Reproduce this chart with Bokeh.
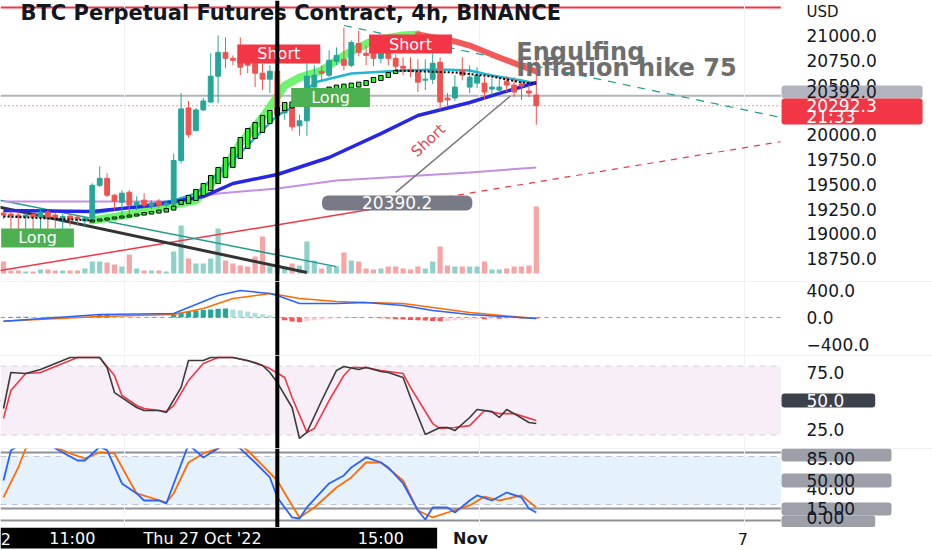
import numpy as np
from bokeh.plotting import figure
from bokeh.models import (Range1d, FixedTicker, Span, BoxAnnotation, Label,
                          ColumnDataSource, PrintfTickFormatter)
from bokeh.layouts import column
from bokeh.embed import file_html
from bokeh.resources import INLINE
from bokeh.core.properties import value

# ------------------------------------------------------------------ data
# 4h candles, index 0 .. 72  (index 37 = Thu 27 Oct '22 15:00, cursor)
opens = [19210, 19200, 19190, 19170, 19195, 19170, 19220, 19190, 19160, 19180,
         19170, 19130, 19160, 19490, 19560, 19390, 19320, 19420, 19290, 19340,
         19280, 19330, 19290, 19300, 19740, 20270, 20040, 20250, 20330, 20590,
         20830, 20770, 20770, 20770, 20720, 20620, 20560, 20640, 20220, 20280,
         20090, 20140, 20480, 20640, 20600, 20740, 20760, 20700, 20920, 20820,
         20830, 20770, 20840, 20770, 20690, 20660, 20630, 20550, 20560, 20730,
         20370, 20370, 20650, 20480, 20520, 20520, 20460, 20450, 20540, 20500,
         20510, 20440, 20400]
highs = [19240, 19230, 19220, 19210, 19220, 19240, 19240, 19210, 19200, 19200,
         19190, 19170, 19510, 19680, 19610, 19400, 19440, 19440, 19380, 19410,
         19340, 19350, 19330, 19810, 20420, 20340, 20270, 20370, 20820, 21000,
         20980, 20800, 20980, 20830, 20780, 20720, 20700, 20660, 20300, 20300,
         20200, 20740, 20700, 20700, 20850, 20880, 21080, 20950, 21050, 20900,
         20880, 20900, 20930, 20810, 20780, 20780, 20760, 20760, 20820, 20780,
         20420, 20600, 20780, 20700, 20680, 20580, 20570, 20560, 20590, 20580,
         20560, 20500, 20800]
lows = [19150, 19040, 19040, 19040, 19040, 19040, 19040, 19060, 19050, 19080,
        19080, 19075, 19140, 19470, 19370, 19240, 19190, 19160, 19240, 19260,
        19250, 19260, 19250, 19280, 19710, 19970, 20040, 20240, 20320, 20320,
        20670, 20700, 20600, 20620, 20480, 20450, 20420, 20170, 20150, 20040,
        19990, 19990, 20400, 20550, 20580, 20700, 20650, 20680, 20790, 20700,
        20690, 20720, 20700, 20640, 20600, 20580, 20430, 20450, 20510, 20250,
        20290, 20340, 20550, 20420, 20470, 20350, 20400, 20420, 20430, 20380,
        20350, 20380, 20100]
closes = [19190, 19180, 19170, 19190, 19170, 19220, 19165, 19160, 19175, 19150,
          19150, 19160, 19490, 19560, 19390, 19330, 19410, 19290, 19320, 19290,
          19310, 19290, 19310, 19740, 20260, 20000, 20250, 20340, 20590, 20830,
          20770, 20750, 20680, 20700, 20620, 20560, 20640, 20210, 20260, 20080,
          20140, 20590, 20600, 20620, 20750, 20800, 20700, 20930, 20830, 20800,
          20770, 20840, 20770, 20690, 20670, 20640, 20530, 20560, 20720, 20330,
          20350, 20480, 20600, 20580, 20600, 20430, 20480, 20480, 20500, 20430,
          20490, 20420, 20292.3]
volumes = [12, 3, 3, 2, 2, 4, 4, 3, 3, 3,
           3, 5, 12, 12, 11, 9, 7, 19, 5, 3,
           3, 3, 2, 22, 48, 15, 10, 10, 15, 45,
           13, 10, 8, 7, 17, 37, 7, 25, 7, 10,
           8, 32, 13, 5, 8, 7, 21, 13, 12, 5,
           4, 5, 7, 7, 5, 4, 7, 5, 12, 27,
           8, 7, 7, 7, 7, 12, 4, 4, 5, 7,
           7, 8, 67]

# trend-candle overlay (green bodies)
green_idx = list(range(12, 54))
green_lo = [19120, 19130, 19140, 19150, 19160, 19170, 19180, 19190, 19200, 19210, 19220, 19240,
            19297, 19307, 19337, 19387, 19438, 19508, 19569, 19670, 19760, 19861, 19962, 20023,
            20113, 20194, 20244,
            20270, 20300, 20330, 20360, 20390, 20420, 20440, 20460, 20470, 20480, 20496, 20526,
            20546, 20577, 20617]
green_hi = [19140, 19150, 19160, 19170, 19180, 19190, 19200, 19215, 19225, 19240, 19255, 19280,
            19337, 19387, 19448, 19508, 19589, 19670, 19770, 19871, 19972, 20063, 20123, 20194,
            20244, 20274, 20325,
            20330, 20360, 20400, 20430, 20460, 20480, 20500, 20510, 20520, 20530, 20546, 20577,
            20597, 20627, 20647]
dot_left_idx = [0, 12]
dot_left = [19176, 19136]
dot_right_idx = [53, 61, 66, 70, 72]
dot_right = [20647, 20627, 20587, 20526, 20516]

ribbon_up_idx = [12, 17, 21, 26, 30, 32, 35, 37, 38, 40, 43, 46, 48, 50, 54, 56]
ribbon_up = [19136, 19196, 19267, 19337, 19670, 19912, 20174, 20385, 20496, 20577, 20647,
             20799, 20879, 20950, 21000, 21010]
ribbon_dn_idx = [56, 61, 63, 67, 72]
ribbon_dn = [21010, 20940, 20899, 20778, 20637]

ema_fast_idx = [12, 23, 26, 31, 35, 37, 39, 42, 47, 54, 59, 63, 66, 70, 72]
ema_fast = [19206, 19337, 19408, 19740, 20043, 20194, 20274, 20526, 20617, 20647, 20657,
            20647, 20597, 20547, 20516]
ema_mid_idx = [0, 12, 20, 27, 31, 37, 44, 51, 56, 63, 67, 72]
ema_mid = [19236, 19226, 19287, 19376, 19508, 19599, 19770, 20011, 20194, 20325, 20416, 20526]
ema_slow_idx = [0, 23, 29, 37, 45, 54, 63, 72]
ema_slow = [19327, 19327, 19408, 19458, 19539, 19579, 19619, 19670]

# drawn trend lines
black_tl_idx = [-1, 41]
black_tl = [19277, 18610]
teal_tl_idx = [-1, 45]
teal_tl = [19346, 18670]
red_tl_idx = [-1, 55]
red_tl = [18624, 19313]
red_tl_ext_idx = [55, 105]
red_tl_ext = [19313, 19929]
teal_dash_idx = [46, 105]
teal_dash = [21101, 20174]
pointer_idx = [53, 68.5]
pointer = [19418, 20390.2]

price_ticks = [18750, 19000, 19250, 19500, 19750, 20000, 20500, 20750, 21000]
last_price = 20292.3
hline_price = 20392.0

# MACD
macd_idx = [0, 13, 23, 25, 29, 32, 36, 37, 40, 45, 49, 54, 58, 63, 72]
macd = [-55, 44, 59, 148, 326, 400, 355, 326, 207, 207, 222, 178, 104, 44, -15]
signal_idx = [0, 13, 23, 27, 31, 36, 37, 40, 45, 49, 54, 58, 63, 72]
signal = [-55, 15, 44, 133, 281, 355, 340, 281, 237, 222, 207, 148, 74, -15]
hist = [5, 8, 10, 12, 10, 8, 10, 12, 10, 8, 10,
        10, 15,
        40, 45, 35,
        15, 10, 5, 0, -5, -5, 0,
        40, 75, 90, 100, 110, 120, 130, 135,
        120, 105, 90, 70, 50, 30,
        -5, -40, -60, -70, -55, -40, -30, -20, -10, -5, 5, 5, 2, -5, -10, -15,
        -25, -30, -35, -40, -45, -50, -55, -50, -40, -35, -30, -25, -25, -20, -20, -18, -15, -15,
        -12, -15]
macd_ticks = [-400, 0, 400]

# Stoch RSI (pink pane, bands 20 / 80)
k_idx = [0, 1, 3, 5, 6, 8, 9, 13, 14, 15, 17, 18, 19, 21, 22, 24, 25, 27, 28, 31,
         33, 35, 36, 37, 39, 40, 41, 43, 45, 46, 48, 49, 51, 52, 54, 55, 57, 59, 60, 61,
         63, 64, 66, 67, 68, 69, 71, 72]
k_vals = [43.0, 74.6, 73.7, 77.2, 79.8, 85.1, 87.7, 87.7, 79.0, 57.0, 48.2, 43.9, 41.2, 41.2,
          39.5, 61.5, 85.1, 85.1, 87.7, 87.7, 85.1, 80.7, 74.6, 65.7, 43.9, 16.7, 22.0, 50,
          76.4, 79.8, 77.2, 79.0, 75.4, 74.6, 70.2, 52.6, 20.2, 26.3, 26.3, 23.6, 35.1, 42.1,
          40.3, 35.1, 42.1, 38.5, 30.7, 29.8]
d_idx = [0, 1, 3, 5, 6, 9, 10, 13, 15, 16, 18, 19, 22, 23, 25, 27, 29, 31, 34, 36,
         38, 39, 41, 42, 44, 46, 47, 49, 51, 54, 55, 58, 59, 61, 63, 65, 67, 69, 72]
d_vals = [34.3, 58.8, 73.7, 74.6, 77.2, 85.1, 87.7, 87.7, 72.0, 54.4, 45.6, 43.0, 40.3, 45.6,
          67.5, 82.4, 87.7, 87.7, 83.3, 78.0, 70.2, 52.6, 22.0, 25.4, 50, 72.0, 79.0, 79.0,
          76.4, 73.7, 61.5, 29.8, 25.4, 26.3, 28.0, 41.2, 38.5, 38.5, 32.5]

# second oscillator (blue pane)
bk_idx = [0, 1, 3, 6, 7, 10, 11, 13, 14, 16, 18, 19, 21, 22, 25, 27, 29, 30, 32, 34,
          36, 37, 39, 40, 41, 44, 46, 47, 49, 51, 52, 54, 56, 57, 58, 60, 61, 63, 64, 66,
          68, 70, 71, 72]
bk_vals = [50, 87.5, 100, 100, 90, 75, 75, 92, 88, 46.3, 33.8, 25, 25, 21.3, 95, 78.8, 90, 100,
           90, 72.5, 53.8, 28.8, 3.8, 2.5, 16.3, 46.3, 56.3, 66.3, 78.8, 72.5, 66.3, 46.3, 12.5,
           1.3, 16.3, 16.3, 10, 25, 31.3, 25, 35, 28.8, 15, 10]
bd_idx = [0, 2, 3, 5, 9, 11, 13, 15, 17, 18, 22, 23, 25, 27, 29, 31, 33, 35, 37, 39,
          40, 42, 45, 47, 49, 51, 54, 56, 58, 60, 63, 65, 67, 70, 72]
bd_vals = [28.8, 66.3, 90, 100, 83.8, 77.5, 85, 83.8, 50, 33.8, 22.5, 33.8, 72.5, 83.8, 90, 100,
           87.5, 68.8, 50, 18.8, 3.8, 16.3, 41.3, 53.8, 72.5, 72.5, 50, 12.5, 3.8, 10, 18.8, 30,
           25, 31.3, 16.3]

# time axis
cursor_idx = 37
date_labels = ["2", "11:00", "Thu 27 Oct '22", "15:00", "Nov", "7"]
date_pos = [0.3, 9.3, 26.9, 51.0, 63.1, 99.9]

# ------------------------------------------------------------------ style
UP, DOWN = "#26a69a", "#ef5350"
FONT = "DejaVu Sans"
TXT = "#131722"
W = 932
XR = Range1d(-0.405, 125.54)      # full width: plot area + price-scale area
CHART_END = 105.05                 # right edge of the plotting area (scale starts here)
GRID_X = [16.4, 64.3, 100.1]
AX_FS = "17px"
AX_X = 108.5                       # start of scale texts
BOX_L = 105.14                     # left edge of scale boxes
BOX_R_WIDE, BOX_R_MID, BOX_R_NARROW = 124.2, 120.0, 117.8


def pane(h, y0, y1, ticks=None, fmt="%.1f", axis=True):
    p = figure(width=W, height=h, x_range=XR, y_range=Range1d(y0, y1),
               output_backend="svg", toolbar_location=None,
               x_axis_location=None, y_axis_location=("right" if axis else None),
               min_border_left=0, min_border_right=0, min_border_top=0, min_border_bottom=0)
    p.outline_line_color = None
    p.border_fill_color = "white"
    p.background_fill_color = "white"
    p.xgrid.ticker = FixedTicker(ticks=GRID_X)
    p.xgrid.grid_line_color = "#f0f1f4"
    p.ygrid.visible = False
    if axis:
        ax = p.yaxis[0]
        ax.ticker = FixedTicker(ticks=ticks or [])
        ax.formatter = PrintfTickFormatter(format=fmt)
        ax.axis_line_color = None
        ax.major_tick_line_color = None
        ax.minor_tick_line_color = None
        ax.major_tick_out = 0
        ax.major_tick_in = 0
        ax.major_label_standoff = -126     # draw the scale texts over the scale area
        ax.major_label_text_font = FONT
        ax.major_label_text_font_size = AX_FS
        ax.major_label_text_color = TXT
    return p


def label(p, x, y, text, color=TXT, size="16px", bg=None, pad=None, align="left",
          bold=False, radius=0, angle=0.0):
    kw = dict(x=x, y=y, text=text, text_font=FONT, text_font_size=size, text_color=color,
              text_align=align, text_baseline="middle", angle=angle,
              text_font_style=("bold" if bold else "normal"))
    if bg is not None:
        kw.update(background_fill_color=bg, background_fill_alpha=1.0, border_radius=radius)
    if pad is not None:
        l, r, t, b = pad
        kw["padding"] = dict(left=l, right=r, top=t, bottom=b)
    p.add_layout(Label(**kw))


def scale_box(p, right, top, bottom, color):
    p.add_layout(BoxAnnotation(left=BOX_L, right=right, top=top, bottom=bottom,
                               fill_color=color, fill_alpha=1, line_alpha=0,
                               border_radius=3))


def level_line(p, y, color, width=1, dash="solid"):
    p.segment(x0=[XR.start], x1=[CHART_END], y0=[y], y1=[y], line_color=color,
              line_width=width, line_dash=dash, level="underlay")


def separator(p, y):
    p.add_layout(Span(location=y, dimension="width", line_color="#e0e3eb", line_width=1,
                      level="underlay"))


def cursor(p):
    p.add_layout(Span(location=cursor_idx, dimension="height", line_color="black", line_width=4))


# ------------------------------------------------------------------ price pane
pp = pane(281, 18520, 21353, ticks=price_ticks)
pp.extra_y_ranges = {"vol": Range1d(-8, 273)}

idx = np.arange(len(opens))
o, h, l, c = map(np.asarray, (opens, highs, lows, closes))
up = c >= o
src = ColumnDataSource(dict(
    x=idx, h=h, l=l, top=np.maximum(o, c), bottom=np.minimum(o, c),
    color=np.where(up, UP, DOWN), vol=volumes,
    vcolor=np.where(up, "#8fd1c9", "#f6a5a4")))

pp.vbar(x="x", width=0.7, top="vol", bottom=0, fill_color="vcolor", line_color=None,
        source=src, y_range_name="vol")

level_line(pp, hline_price, "#b2b5be", width=2)
level_line(pp, last_price, "#f23645", width=1, dash="1 3")
level_line(pp, 21282, "#f23645", width=2)

pp.line(red_tl_idx, red_tl, line_color="#f23645", line_width=1.5)
pp.line(red_tl_ext_idx, red_tl_ext, line_color="#f23645", line_width=1.2, line_dash="6 6")
pp.line(teal_tl_idx, teal_tl, line_color="#1f9c8c", line_width=1.5)
pp.line(black_tl_idx, black_tl, line_color="#333333", line_width=3)
pp.line(teal_dash_idx, teal_dash, line_color="#1f9c8c", line_width=1.2, line_dash="8 7")

pp.line(ema_slow_idx, ema_slow, line_color="#c490e4", line_width=2)
pp.line(ribbon_up_idx, ribbon_up, line_color="#55f255", line_width=8, line_alpha=0.85,
        line_cap="round")
pp.line(ribbon_dn_idx, ribbon_dn, line_color="#f25a5a", line_width=6, line_cap="round")
pp.line(ema_fast_idx, ema_fast, line_color="#22b5d4", line_width=2.5)
pp.line(ema_mid_idx, ema_mid, line_color="#2626e6", line_width=3.5)

pp.segment(x0="x", y0="h", x1="x", y1="l", line_color="color", line_width=1, source=src)
pp.vbar(x="x", width=0.65, top="top", bottom="bottom", fill_color="color",
        line_color="color", source=src)

pp.vbar(x=green_idx, width=0.6, top=green_hi, bottom=green_lo, fill_color="#2cf02c",
        line_color="black", line_width=1)
pp.line(dot_left_idx, dot_left, line_color="black", line_width=2, line_dash="2 2")
pp.line(dot_right_idx, dot_right, line_color="black", line_width=2, line_dash="2 2")
pp.line(pointer_idx, pointer, line_color="#777777", line_width=1.5)

pp.text(x=[69.3, 69.3], y=[20829, 20668], text=["Engulfing", "Inflation hike 75"],
        text_font=value(FONT), text_font_size="24px", text_font_style="bold",
        text_color="#6e6e6e", text_baseline="middle")

label(pp, 2.3, 21232, "BTC Perpetual Futures Contract, 4h, BINANCE", bold=True, size="21px")
label(pp, 4.6, 18959, "Long", color="white", bg="#4caf50", pad=(17, 17, 0, 0), align="center")
label(pp, 44.2, 20375, "Long", color="white", bg="#4caf50", pad=(20, 20, 0, 0), align="center")
label(pp, 37.2, 20814, "Short", color="white", bg="#f23645", pad=(20, 20, 0, 0), align="center")
label(pp, 55.0, 20914, "Short", color="white", bg="#f23645", pad=(20, 20, 0, 0), align="center")
label(pp, 53.2, 19312, "20390.2", color="white", bg="#787b86", pad=(40, 40, 1, 1),
      align="center", radius=6, size="17px")
label(pp, 57.4, 19942, "Short", color="#e8434f", size="15px", align="center", angle=0.75)
cursor(pp)
scale_box(pp, BOX_R_WIDE, 20496, 20365, "#b2b5be")
scale_box(pp, BOX_R_WIDE, 20365, 20103, "#f23645")
label(pp, AX_X, 21242, "USD", size="15px")
label(pp, AX_X, 20431, "20392.0", size=AX_FS)
label(pp, AX_X, 20295, "20292.3", color="white", size=AX_FS)
label(pp, AX_X, 20174, "21:33", color="white", size=AX_FS)

# ------------------------------------------------------------------ MACD pane
pm = pane(74, -562, 533, ticks=macd_ticks)
pm.yaxis[0].major_label_overrides = {-400: "\u2212400.0"}
separator(pm, 533)
level_line(pm, 0, "#9598a1", dash="4 4")
hvals = np.asarray(hist, dtype=float)
prev = np.concatenate([[hvals[0]], hvals[:-1]])
hcol = np.where(hvals >= 0, np.where(hvals >= prev, "#26a69a", "#b2dfdb"),
                np.where(hvals <= prev, "#ff5252", "#ffcdd2"))
pm.vbar(x=idx, width=0.7, top=hvals, bottom=0, fill_color=hcol, line_color=None)
pm.line(signal_idx, signal, line_color="#ff6d00", line_width=1.5)
pm.line(macd_idx, macd, line_color="#2962ff", line_width=1.5)
cursor(pm)

# ------------------------------------------------------------------ Stoch RSI pane
ps1 = pane(93, 7.9, 89.5, ticks=[25, 75])
ps1.add_layout(BoxAnnotation(bottom=20, top=80, right=CHART_END, fill_color="#f7eef7",
                             fill_alpha=1, line_alpha=0, level="underlay"))
separator(ps1, 89.5)
level_line(ps1, 80, "#9598a1", dash="6 5")
level_line(ps1, 20, "#9598a1", dash="6 5")
level_line(ps1, 50, "#363a45", width=2)
ps1.line(d_idx, d_vals, line_color="#f23645", line_width=1.6)
ps1.line(k_idx, k_vals, line_color="#3b3b3b", line_width=1.6)
cursor(ps1)
scale_box(ps1, BOX_R_NARROW, 56.1, 43.9, "#3d414c")
label(ps1, AX_X, 50, "50.0", color="white", size=AX_FS)

# ------------------------------------------------------------------ second oscillator pane
pb = pane(79, -8.75, 90, ticks=[40], fmt="%.2f")
pb.add_layout(BoxAnnotation(bottom=20, top=80, right=CHART_END, fill_color="#e5f2fd",
                            fill_alpha=1, line_alpha=0, level="underlay"))
separator(pb, 90)
for lv in (80, 20):
    level_line(pb, lv, "#9598a1", dash="6 5")
for lv in (85, 50, 15, 0):
    level_line(pb, lv, "#8e9199", width=2)
pb.line(bd_idx, bd_vals, line_color="#ff6d00", line_width=1.8)
pb.line(bk_idx, bk_vals, line_color="#2962ff", line_width=1.8)
cursor(pb)
scale_box(pb, BOX_R_MID, 90, 73.75, "#9da0a8")
scale_box(pb, BOX_R_MID, 58.75, 41.25, "#9da0a8")
scale_box(pb, BOX_R_MID, 22.5, 6.25, "#9da0a8")
scale_box(pb, BOX_R_NARROW, 6.25, -8.75, "#9da0a8")
for txt, yv in (("85.00", 77.5), ("50.00", 50), ("15.00", 14.4), ("0.00", 3.75)):
    label(pb, AX_X, yv, txt, size=AX_FS)

# ------------------------------------------------------------------ time strip
pt = pane(23, 0, 23, axis=False)
pt.xgrid.visible = False
pt.add_layout(BoxAnnotation(right=58.6, bottom=2, fill_color="black", fill_alpha=1,
                            line_alpha=0, level="underlay"))
for txt, xpos in zip(date_labels, date_pos):
    on_black = xpos < 58.6
    label(pt, xpos, 12, txt, color=("white" if on_black else TXT), size="16px",
          align="center", bold=(txt == "Nov"))

layout = column(pp, pm, ps1, pb, pt)
open("out.html", "w").write(file_html(layout, INLINE))
